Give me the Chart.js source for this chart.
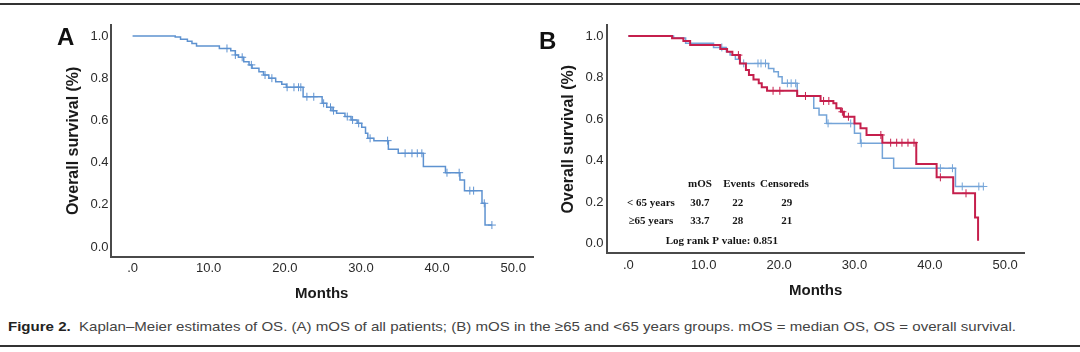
<!DOCTYPE html>
<html>
<head>
<meta charset="utf-8">
<script src="https://cdn.jsdelivr.net/npm/chart.js@4.4.0/dist/chart.umd.min.js"></script>
<style>
  body { margin: 0; background: #fff; width: 1080px; height: 352px; overflow: hidden; position: relative;
         font-family: "Liberation Sans", Arial, sans-serif; }
  .rule { position: absolute; left: 0; width: 1080px; height: 2px; background: #333; }
  .panel { position: absolute; top: 0; width: 540px; height: 310px; }
  .letter { position: absolute; font-weight: bold; font-size: 24px; line-height: 24px; color: #111; }
  #caption { position: absolute; left: 8px; top: 319px; font-size: 13.5px; line-height: 16px; color: #444;
             white-space: nowrap; transform-origin: 0 0; }
  #caption b { color: #222; }
</style>
</head>
<body>
<div class="rule" style="top:3px"></div>
<div class="panel" style="left:0"><canvas id="chartA" width="540" height="310"></canvas></div>
<div class="panel" style="left:540px"><canvas id="chartB" width="540" height="310"></canvas></div>
<div class="letter" style="left:57px;top:25px">A</div>
<div class="letter" style="left:539px;top:29px">B</div>
<div id="caption"><b>Figure 2.</b>&nbsp; Kaplan&ndash;Meier estimates of OS. (A) mOS of all patients; (B) mOS in the &ge;65 and &lt;65 years groups. mOS = median OS, OS = overall survival.</div>
<div class="rule" style="top:345px"></div>

<script>
// axis ticks
var xTickValues = [0, 10, 20, 30, 40, 50];
var xTickLabels = ['.0', '10.0', '20.0', '30.0', '40.0', '50.0'];
var yTickValues = [0, 0.2, 0.4, 0.6, 0.8, 1.0];
var yTickLabels = ['0.0', '0.2', '0.4', '0.6', '0.8', '1.0'];

// panel A - all patients
var aTimes = [0, 5.6, 6.3, 7.2, 7.8, 8.4, 11.4, 12.9, 13.5, 13.9, 14.6, 15.3, 15.7, 16.6, 17.2, 17.9, 18.8, 19.6, 20.2,
              22.4, 24.9, 25.5, 26.2, 26.8, 27.9, 28.7, 29.5, 30.1, 30.6, 30.9, 31.7, 33.6, 34.9, 38.2, 41.1, 43.0,
              43.6, 45.9, 46.3, 47.2];
var aSurv = [1.0, 0.995, 0.984, 0.975, 0.964, 0.953, 0.941, 0.93, 0.91, 0.899, 0.878, 0.863, 0.847, 0.831, 0.815, 0.8,
             0.783, 0.771, 0.757, 0.712, 0.681, 0.662, 0.646, 0.634, 0.618, 0.602, 0.586, 0.567, 0.539, 0.515, 0.504,
             0.463, 0.444, 0.381, 0.352, 0.318, 0.267, 0.207, 0.104, 0.104];
var aCensTimes = [12.4, 13.5, 14.4, 15.6, 17.4, 18.3, 20.3, 21.2, 21.8, 22.1, 22.9, 23.8, 25.1, 26.0, 26.4, 28.2, 28.9,
                  29.7, 31.2, 33.5, 35.8, 36.7, 37.4, 38.0, 41.3, 42.9, 44.3, 44.8, 46.2, 47.2];
var aCensSurv = [0.941, 0.91, 0.899, 0.863, 0.815, 0.8, 0.757, 0.757, 0.757, 0.757, 0.712, 0.712, 0.681, 0.662, 0.646,
                 0.618, 0.602, 0.586, 0.515, 0.504, 0.444, 0.444, 0.444, 0.444, 0.352, 0.352, 0.267, 0.267, 0.207, 0.104];

// panel B - red group
var bRedTimes = [0, 5.8, 7.3, 8.2, 12.2, 13.1, 13.8, 14.8, 15.6, 16.0, 16.6, 17.3, 17.7, 18.4, 22.4, 25.5, 27.2, 27.6,
                 28.2, 28.6, 30.0, 30.8, 31.6, 33.7, 38.2, 40.9, 43.1, 46.0, 46.4];
var bRedSurv = [1.0, 0.989, 0.976, 0.957, 0.937, 0.924, 0.908, 0.868, 0.836, 0.812, 0.791, 0.772, 0.753, 0.736, 0.711,
                0.687, 0.676, 0.652, 0.635, 0.611, 0.579, 0.555, 0.523, 0.486, 0.383, 0.319, 0.242, 0.126, 0.013];
var bRedCensTimes = [14.6, 19.2, 20.1, 23.5, 25.9, 26.6, 28.4, 29.2, 33.5, 34.8, 35.6, 36.3, 37.1, 37.9, 41.4, 44.8];
var bRedCensSurv = [0.908, 0.736, 0.736, 0.711, 0.687, 0.687, 0.635, 0.611, 0.523, 0.486, 0.486, 0.486, 0.486, 0.486,
                    0.319, 0.242];

// panel B - blue group
var bBlueTimes = [0, 6.0, 7.6, 11.3, 13.0, 13.5, 14.2, 14.8, 18.6, 19.3, 19.9, 20.4, 22.4, 24.6, 25.3, 26.3, 30.0, 30.8,
                  33.7, 35.2, 43.4, 47.1];
var bBlueSurv = [1.0, 0.99, 0.965, 0.945, 0.924, 0.908, 0.888, 0.868, 0.844, 0.828, 0.804, 0.772, 0.711, 0.652, 0.619,
                 0.579, 0.531, 0.483, 0.411, 0.363, 0.275, 0.275];
var bBlueCensTimes = [12.4, 15.3, 17.2, 17.6, 18.2, 21.1, 21.6, 22.2, 26.5, 29.5, 30.9, 41.4, 43.0, 44.3, 46.5, 47.1];
var bBlueCensSurv = [0.945, 0.868, 0.868, 0.868, 0.868, 0.772, 0.772, 0.772, 0.579, 0.579, 0.483, 0.363, 0.363, 0.275,
                     0.275, 0.275];

// table in panel B
var tableHeader = ['mOS', 'Events', 'Censoreds'];
var tableGroups = ['< 65 years', '\u226565 years'];
var tableMOS = ['30.7', '33.7'];
var tableEvents = ['22', '28'];
var tableCensored = ['29', '21'];
var logRankText = 'Log rank P value: 0.851';

var FONT = '"Liberation Sans", Arial, sans-serif';
var BLUE_A = '#5e92d0';
var BLUE_B = '#74a4d8';
var RED = '#c51f4c';
var AXIS = '#4a4a4a';

function pts(xs, ys) {
  return xs.map(function(t, i) { return {x: t, y: ys[i]}; });
}

function curve(xs, ys, color, width) {
  return { data: pts(xs, ys), stepped: true, borderColor: color, borderWidth: width,
           pointRadius: 0, pointHoverRadius: 0, fill: false, tension: 0 };
}

function marks(xs, ys, color) {
  return { data: pts(xs, ys), showLine: false, pointStyle: 'cross', pointRadius: 4, pointHoverRadius: 4,
           borderColor: color, backgroundColor: color, pointBorderWidth: 1 };
}

function kmChart(id, datasets, geo, extra) {
  return new Chart(document.getElementById(id), {
    type: 'line',
    data: { datasets: datasets },
    options: {
      responsive: false,
      animation: false,
      layout: { padding: { top: 25, left: 0, right: geo.padRight, bottom: 0 } },
      plugins: { legend: { display: false }, tooltip: { enabled: false } },
      scales: {
        x: {
          type: 'linear', min: -2.9, max: 52.6,
          grid: { display: false, drawTicks: false },
          border: { display: true, color: AXIS, width: 2 },
          afterBuildTicks: function(s) { s.ticks = xTickValues.map(function(v) { return {value: v}; }); },
          afterFit: function(s) { s.height = geo.xAxisHeight; },
          ticks: { autoSkip: false, maxRotation: 0, padding: 4, color: '#2a2a2a', font: { size: 13, family: FONT },
                   callback: function(v, i) { return xTickLabels[i]; } },
          title: { display: true, text: 'Months', color: '#1a1a1a', font: { size: 15, weight: 'bold', family: FONT },
                   padding: { top: 0, bottom: geo.xTitlePad } }
        },
        y: {
          type: 'linear', min: geo.yMin, max: geo.yMax,
          grid: { display: false, drawTicks: false },
          border: { display: true, color: AXIS, width: 2 },
          afterBuildTicks: function(s) { s.ticks = yTickValues.map(function(v) { return {value: v}; }); },
          afterFit: function(s) { s.width = geo.yAxisWidth; },
          ticks: { padding: geo.yTickPad, color: '#2a2a2a', font: { size: 13, family: FONT },
                   callback: function(v, i) { return yTickLabels[i]; } },
          title: { display: true, text: 'Overall survival (%)', color: '#1a1a1a',
                   font: { size: 16, weight: 'bold', family: FONT },
                   padding: { top: geo.yTitlePad, bottom: 0 } }
        }
      }
    },
    plugins: extra || []
  });
}

var tablePlugin = {
  id: 'kmTable',
  afterDatasetsDraw: function(chart) {
    var ctx = chart.ctx, x = chart.scales.x, y = chart.scales.y;
    ctx.save();
    ctx.fillStyle = '#151515';
    ctx.font = 'bold 11px "Liberation Serif", "Times New Roman", serif';
    ctx.textAlign = 'center';
    ctx.textBaseline = 'middle';
    var headX = [9.5, 14.7, 20.7];
    var valX = [9.5, 14.5, 21.0];
    var rowY = [0.285, 0.197, 0.108];
    tableHeader.forEach(function(h, i) {
      ctx.fillText(h, x.getPixelForValue(headX[i]), y.getPixelForValue(rowY[0]));
    });
    tableGroups.forEach(function(g, r) {
      var py = y.getPixelForValue(rowY[r + 1]);
      ctx.fillText(g, x.getPixelForValue(3.0), py);
      ctx.fillText(tableMOS[r], x.getPixelForValue(valX[0]), py);
      ctx.fillText(tableEvents[r], x.getPixelForValue(valX[1]), py);
      ctx.fillText(tableCensored[r], x.getPixelForValue(valX[2]), py);
    });
    ctx.fillText(logRankText, x.getPixelForValue(12.4), y.getPixelForValue(0.0135));
    ctx.restore();
  }
};

kmChart('chartA', [
  marks(aCensTimes, aCensSurv, BLUE_A),
  curve(aTimes, aSurv, BLUE_A, 1.5)
], { padRight: 7, xAxisHeight: 53.3, xTitlePad: 7, yAxisWidth: 110.5, yTitlePad: 64.4, yTickPad: 2,
     yMin: -0.046, yMax: 1.052 });

kmChart('chartB', [
  marks(bRedCensTimes, bRedCensSurv, RED),
  curve(bRedTimes, bRedSurv, RED, 2),
  marks(bBlueCensTimes, bBlueCensSurv, BLUE_B),
  curve(bBlueTimes, bBlueSurv, BLUE_B, 1.5)
], { padRight: 55.2, xAxisHeight: 56.7, xTitlePad: 10.5, yAxisWidth: 66.5, yTitlePad: 19.4, yTickPad: 3,
     yMin: -0.047, yMax: 1.053 }, [tablePlugin]);

// stretch caption to the width it has in the figure
var cap = document.getElementById('caption');
cap.style.transform = 'scaleX(' + (1008 / cap.getBoundingClientRect().width) + ')';
</script>
</body>
</html>
